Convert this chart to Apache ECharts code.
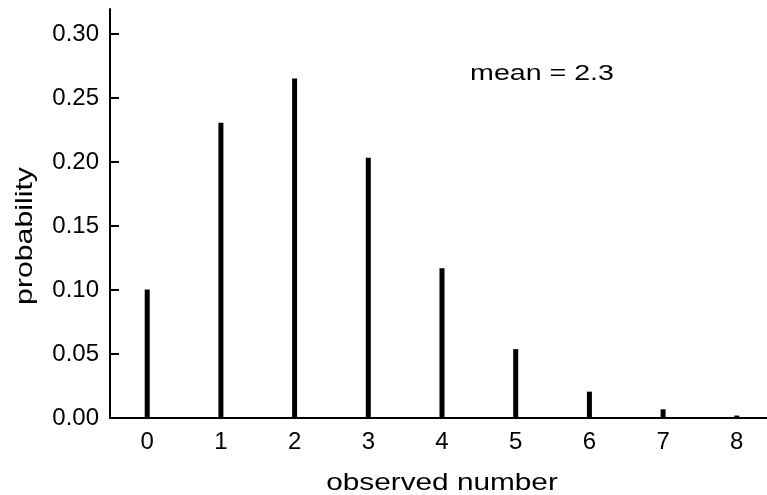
<!DOCTYPE html>
<html><head><meta charset="utf-8">
<script src="https://cdn.jsdelivr.net/npm/echarts@6/dist/echarts.min.js"></script>
<style>html,body{margin:0;padding:0;background:#fff}#c{width:767px;height:495px}</style>
</head><body><div id="c"></div>
<script>
const counts = [0, 1, 2, 3, 4, 5, 6, 7, 8];
const probabilities = [0.1003, 0.2306, 0.2652, 0.2033, 0.1169, 0.0538, 0.0206, 0.0068, 0.0019];
const yTicks = [0, 0.05, 0.10, 0.15, 0.20, 0.25, 0.30];
const xTitle = 'observed number';
const yTitle = 'probability';
const annotation = 'mean = 2.3';

const font = '"Liberation Sans", Arial, sans-serif';
const chart = echarts.init(document.getElementById('c'));
chart.setOption({
  animation: false,
  grid: {left: 110, right: 0, top: 9, bottom: 77, containLabel: false},
  xAxis: {
    type: 'value', min: -0.505, max: 8.41,
    axisLine: {show: true, onZero: false, lineStyle: {color: '#000', width: 2}},
    axisTick: {show: false},
    splitLine: {show: false},
    axisLabel: {customValues: counts, fontFamily: font, fontSize: 24, color: '#000', margin: 12}
  },
  yAxis: {
    type: 'value', min: 0, max: 0.3195,
    axisLine: {show: true, onZero: false, lineStyle: {color: '#000', width: 2}},
    axisTick: {show: true, inside: true, length: 9, customValues: yTicks, lineStyle: {color: '#000', width: 2}},
    splitLine: {show: false},
    axisLabel: {customValues: yTicks, fontFamily: font, fontSize: 24, color: '#000', margin: 11,
      formatter: v => v.toFixed(2)}
  },
  graphic: [
    {type: 'text', x: 542, y: 74, scaleX: 1.3,
      style: {text: annotation, x: 0, y: 0, align: 'center', verticalAlign: 'middle', font: '22px ' + font, fill: '#000'}},
    {type: 'text', x: 442, y: 483, scaleX: 1.24,
      style: {text: xTitle, x: 0, y: 0, align: 'center', verticalAlign: 'middle', font: '24px ' + font, fill: '#000'}},
    {type: 'text', x: 25, y: 236, rotation: Math.PI / 2, scaleX: 1.26,
      style: {text: yTitle, x: 0, y: 0, align: 'center', verticalAlign: 'middle', font: '24px ' + font, fill: '#000'}}
  ],
  series: [{
    type: 'bar', barWidth: 5,
    itemStyle: {color: '#000'},
    data: counts.map((c, i) => [c, probabilities[i]])
  }]
});
</script></body></html>
